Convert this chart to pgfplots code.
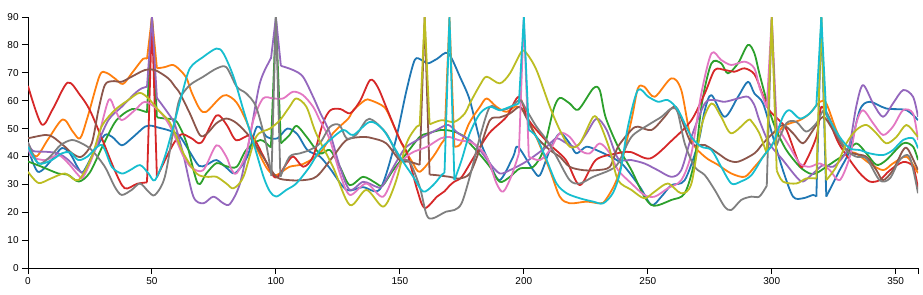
\documentclass[border=0pt]{standalone}
\usepackage{pgfplots}
\pgfplotsset{compat=1.18}
\usepackage{fontspec}
\setmainfont{Liberation Sans}
\definecolor{cB}{HTML}{1F77B4}
\definecolor{cO}{HTML}{FF7F0E}
\definecolor{cG}{HTML}{2CA02C}
\definecolor{cR}{HTML}{D62728}
\definecolor{cP}{HTML}{9467BD}
\definecolor{cBr}{HTML}{8C564B}
\definecolor{cPk}{HTML}{E377C2}
\definecolor{cGy}{HTML}{7F7F7F}
\definecolor{cOl}{HTML}{BCBD22}
\definecolor{cC}{HTML}{17BECF}
\pgfplotsset{
  ser/.style={line width=1.35pt, smooth, tension=0.5, no markers, line join=round},
  spk/.style={line width=1.35pt, sharp plot, no markers, line join=round},
}
\begin{document}
\begin{tikzpicture}
\path[use as bounding box] (-21pt,-19.5pt) rectangle (671.25pt,201pt);
\begin{axis}[at={(0,0)}, anchor=south west, scale only axis,
  width=667.5pt, height=188.25pt,
  xmin=0, xmax=359, ymin=0, ymax=90,
  axis x line*=bottom, axis y line*=left,
  axis line style={line width=0.75pt, black},
  xtick={0,50,...,350}, ytick={0,10,...,90},
  extra x ticks={359}, extra x tick labels={},
  tick align=outside, major tick length=4.5pt,
  tick style={line width=0.75pt, black},
  ticklabel style={font=\fontsize{7.5}{9}\selectfont},
  /pgf/number format/assume math mode=true,
  xticklabel style={yshift=1pt}, yticklabel style={xshift=1pt},
  clip=true,
]
% blue
\addplot[ser, cB] coordinates {(0,43) (4,34.5) (9.5,38.7) (13.6,43) (17,41) (20.3,35.7) (22.3,34.5) (27,42.3) (31,47.7) (34,47) (37.8,44) (41.8,46.5) (47.2,50.7) (50,51) (52,50.5) (57,49.3) (61,47.5) (65,42) (69,36.6) (72,37) (76,38.7) (80,36) (83.5,34) (88.5,40) (92.4,50.7) (96.4,47) (100.6,46.5) (104.6,50) (108.6,48) (112.7,42.3) (117.7,40) (121.8,35.7) (128.5,28) (135,29) (142,28.3) (148,44.7) (152.7,63.8) (156,74.6) (158.7,74.6) (161.4,73.4) (165,75) (169.5,77) (174.5,68) (178.2,60.2) (182.3,45.9) (186.3,37.5) (190.3,31.5) (195.7,39.9) (197.6,43.5) (203.8,35.1) (206.5,33.3) (210.5,42.3) (214.5,48.3) (218.5,44.7) (221.2,41.1) (225.3,43.5) (230,42) (235,39.9) (240,37) (246.8,29.1) (251.5,22.6) (255.5,25.6) (259.5,29.7) (264.9,31.5) (270.3,44.7) (273,56.6) (275.7,62) (281,54.2) (286.4,61.4) (290.4,66.8) (293,62.6) (296.5,59) (300.5,47) (304.5,35.1) (308.6,25.6) (312.6,25) (316.7,26.2) (318,25.6)};
\addplot[spk, cB] coordinates {(318,25.6) (320,90) (322,25.6)};
\addplot[ser, cB] coordinates {(322,25.6) (327.4,35.1) (331.5,42.3) (335.5,56.6) (339.5,59.6) (346.2,57.2) (354.3,56.6) (359,53)};
% orange
\addplot[ser, cO] coordinates {(0,43.5) (3.4,40) (8,46) (14,53.3) (18,49) (21,46.5) (24,54) (28.9,69) (31.6,70) (35,68) (38.3,66) (42,70) (46.4,75) (48,75)};
\addplot[spk, cO] coordinates {(48,75) (50,90) (52,71.6)};
\addplot[ser, cO] coordinates {(52,71.6) (55,72) (58.5,72.8) (61.3,71) (64,68) (66,63) (69.3,57) (71.9,56) (77.2,60.8) (80,62) (84,59.5) (87.9,53) (92,43.5) (96,36.3) (99,33.3) (101.5,33.9) (105.5,36.3) (111,37.3) (117.7,41.1) (123,48.3) (129.2,53.6) (131.2,56.6) (136,60.2) (138,60.2) (142.6,58.4) (145,56) (150.5,45) (155,38) (158,34.5) (163.4,39.9) (166.8,44.7) (168,46)};
\addplot[spk, cO] coordinates {(168,46) (170,90) (172,43.5)};
\addplot[ser, cO] coordinates {(172,43.5) (174.5,44.5) (178,52) (182.3,57.8) (185,60.8) (189,57.8) (193,56) (197,58) (200,56) (205,47) (210.5,35.1) (214.5,25.6) (218.5,23.2) (225.3,23.8) (230.6,23.2) (233,24.4) (238,33) (243.4,53) (246,64.4) (248.6,65) (252.8,61.4) (259.5,68) (263.5,63.8) (267.6,45.9) (273,39.9) (278.3,37) (283.7,33.9) (289.1,32.7) (293.1,36.3) (296.5,39.9) (300.5,44.7) (304.5,50.7) (311.3,53) (315.3,55.4) (319.4,59.6) (322,59) (326,49.5) (330.1,42.3) (334.1,41.1) (339.5,37.5) (344.9,35.1) (348.9,37.5) (354.3,39.9) (358.3,35.1) (359,34)};
% green
\addplot[ser, cG] coordinates {(0,38.2) (5,36.5) (12.2,33.9) (16,33.5) (20.5,31) (24.9,34.2) (30.2,43.9) (35.6,52.9) (42,57) (47.5,56) (48,56)};
\addplot[spk, cG] coordinates {(48,56) (50,90) (52,54)};
\addplot[ser, cG] coordinates {(52,54) (55.2,53.6) (59,53.2) (61,51) (64,44.7) (68.5,30.3) (72,34) (76,37.6) (80,36.5) (84.2,36.3) (88,42.3) (93.7,45.9) (97.6,43.5) (98,43.5)};
\addplot[spk, cG] coordinates {(98,43.5) (100,90) (102,44.7)};
\addplot[ser, cG] coordinates {(102,44.7) (105.5,47.7) (108.3,51) (112.4,47) (117.7,41.1) (121.8,42.3) (125.8,36.3) (129.8,29.7) (135.2,32.7) (140.6,30.3) (143,29.5) (147.3,35.1) (152.7,41.1) (158,47) (161.4,48.3) (166.8,49.5) (172,48.9) (176.2,47) (178.2,44.7) (182,41) (186.3,36.3) (190.3,30.9) (194.4,32.7) (198.4,35.7) (203.8,36.3) (207.9,42.3) (211.9,56.6) (214.5,61) (218.5,59) (222,56.8) (228,64.4) (230.6,63.8) (233,54) (238,43.5) (243.4,35.1) (248.6,25.6) (252.5,22.3) (259.5,24.4) (264.9,26.8) (268.9,38.7) (272,60) (275.7,73.4) (279.6,73.4) (282.3,69.8) (286.4,73.4) (290.4,80) (293,77) (295,69.8) (299,56.6) (301.8,49.5) (305.9,42.3) (311.3,36.3) (315.3,33.9) (318,34) (322,36.3) (326,38.7) (330.1,41.1) (334.1,44.7) (338.2,41.1) (342.2,37) (346.2,38.7) (353,44.7) (357,43.5) (359,38.7)};
% red
\addplot[ser, cR] coordinates {(0,65.3) (5.5,51.5) (10,57) (16,66.5) (21,62) (25,56.5) (30,46) (35,35) (39,28.6) (44,30.2) (48,30.7)};
\addplot[spk, cR] coordinates {(48,30.7) (50,90) (52,32.6)};
\addplot[ser, cR] coordinates {(52,32.6) (56,40) (59,45) (62,48) (66,46.5) (70,45) (76,54.7) (80,51.5) (84,45.8) (90,47.5) (95,40) (99,33) (101,33) (104,37) (107,40) (111,36.3) (115,40) (119,52) (122,56.6) (126,57) (130,55.5) (134,60) (138,67.4) (141,65) (145,56.6) (150,46) (153,41) (157,28) (160,21.5) (165,25.6) (168,27.5) (170,29.5) (172,31) (175,32.7) (180,40) (186,48.3) (193,54.2) (198,61.4) (202,53) (210,44.7) (217,38.7) (222.6,29.7) (229,38.7) (237,41) (243,41.6) (251,39.3) (260,46) (267.6,53) (273,62.6) (277,71) (281,71) (285,70.4) (289,71.6) (293,69.5) (296,63) (299,56.6) (303,53) (306,49.5) (311,37.5) (313,37) (318,47) (320,57.8) (323,53) (327,44.7) (331.5,38.7) (335.5,34) (339.5,31) (343.5,31.5) (347.6,35) (353,38) (357,36.3) (359,28.5)};
% purple
\addplot[ser, cP] coordinates {(0,45) (2,42) (6.9,41.7) (12.2,41.1) (16.3,38.7) (20.3,35.1) (23,34.5) (27,42.3) (32.4,53) (37.8,57.8) (43.1,62.6) (45.8,64.4) (48,65)};
\addplot[spk, cP] coordinates {(48,65) (50,90) (52,61)};
\addplot[ser, cP] coordinates {(52,61) (56.6,55.4) (59.3,51.3) (62.7,40.5) (66.7,25.6) (70.7,23.2) (74.8,25.6) (78.8,23.2) (81.5,23) (85.5,30.3) (89.5,47) (93.5,66.2) (97.6,74.6) (98,75)};
\addplot[spk, cP] coordinates {(98,75) (100,90) (102,72.5)};
\addplot[ser, cP] coordinates {(102,72.5) (106.9,71) (110.9,68.6) (115,61.4) (117.7,56) (121.8,48.3) (125.8,36.3) (129.8,28) (135.2,30.9) (140.6,29.1) (143,29.5) (149,38.7) (152.7,43.5) (159.4,47) (164.8,49.5) (169.5,51.3) (173.5,48.3) (178.2,45.9) (182.3,42.3) (186.3,37.5) (190.3,33.9) (194.4,35.1) (199.7,37.5) (203.8,39.9) (209.2,43.5) (213.2,46.5) (217.3,44.7) (221.3,43.5) (225.3,48.3) (229.4,53.6) (233.4,49.5) (238,39.3) (243.4,38.7) (248.6,37.5) (254,35.1) (259.5,32.7) (263.5,35.1) (267.6,47) (273,59) (277,60.2) (281,59.6) (286.4,60.8) (290.4,61.4) (293,58.4) (295,53) (299,44.7) (304.5,38.7) (309.9,32.7) (312.6,31) (316.7,33.9) (320.7,36.9) (324.7,36.3) (328.8,39.9) (331.5,44.7) (334.1,58) (336.8,65.6) (340.9,59) (344.9,54.2) (348.9,59) (353,63.8) (357,61.4) (359,54.2)};
% brown
\addplot[ser, cBr] coordinates {(0,46.5) (6.9,47.7) (10,47) (14.9,43.5) (18,41) (21.6,39.9) (25.7,44.7) (28.4,56.6) (31,65.6) (34,67) (37.8,66.8) (41.8,68.6) (47.2,71) (51.2,71) (56.6,68) (59.3,65) (61.3,62.6) (65.3,55.4) (69.3,47.7) (72,48) (76,51.9) (80,53.6) (84.2,51.9) (89.5,47) (94.8,39.9) (100.2,32.7) (105.5,31.5) (110.9,31.5) (114.9,32.1) (117.7,33.9) (123,39.9) (128.5,45.9) (135.2,47) (139.1,46.5) (144.5,44.7) (149.9,38.7) (153.9,38.1) (158,37)};
\addplot[spk, cBr] coordinates {(158,37) (160,90) (162,33.5)};
\addplot[ser, cBr] coordinates {(162,33.5) (164.7,33.3) (170,32.7) (174.1,32.1) (178.2,33.9) (182,42) (186.3,53) (190.3,54) (194.4,55.4) (198.4,57.8) (201,54) (205.1,47) (210.5,42.3) (214.5,39.9) (218.5,36.3) (223.9,35.1) (229.4,35.1) (234.7,36.3) (238,43.5) (243.4,49.5) (246,50.7) (251.5,49.5) (256.8,54.2) (259.5,57.2) (262,57) (267.6,44.7) (273,44.1) (278.3,41.1) (282.3,38.7) (286.4,38.1) (293,41.1) (296.5,44.7) (300.5,48.3) (304.5,51.3) (308.6,48.3) (312.6,44.7) (316.7,49.5) (320.7,54.2) (324.7,49.5) (328.8,43.5) (332.8,41.1) (338.2,39.9) (342.2,35.1) (344.9,31.5) (348.9,35.1) (353,42.3) (355,42.5) (359,35.1)};
% pink
\addplot[ser, cPk] coordinates {(0,44) (1.5,40) (6.9,38.7) (12.2,40.5) (16.3,37.5) (20.3,33.3) (22.3,32.7) (27,42.3) (32.4,60) (35,57) (37.8,53) (43.1,56.6) (47.2,59.6) (52.6,56.6) (56.6,51.9) (59.3,47) (62.7,40) (66,36) (70.7,35.1) (76,44) (80,39.9) (82,35.4) (84.2,34) (88,41.1) (90.9,53) (94.8,60.8) (98.9,60.8) (102.9,60.8) (106.9,63.2) (110.9,62) (115,57.8) (117.7,53) (121.8,45.9) (125.8,33.9) (129.8,26.2) (136.5,30.3) (143.3,25.6) (149,36.3) (154.4,41.1) (161,43.5) (166.5,46.5) (170,47) (173.5,45.9) (179.6,44.7) (185,39.9) (189,30.3) (191.7,27.4) (195,33) (198,41)};
\addplot[spk, cPk] coordinates {(198,41) (200,90) (202,39.9)};
\addplot[ser, cPk] coordinates {(202,39.9) (206.5,38.7) (210.5,42.3) (214.5,48.3) (218.5,47) (222.6,42.3) (226.6,41.1) (230.6,44.7) (234.7,41.1) (238,35.1) (243.4,30.3) (248.6,26.2) (252.8,25.6) (258.1,28.6) (263.5,31.5) (267.6,41.1) (271.6,62.6) (275.7,77) (279.6,74.6) (283.7,72.8) (289.1,74) (293,71.6) (295,65) (298,57.5)};
\addplot[spk, cPk] coordinates {(298,57.5) (300,90) (302,51)};
\addplot[ser, cPk] coordinates {(302,51) (307.2,43.5) (311.3,37.5) (315.3,36.3) (319.4,37.5) (323.4,35.1) (327.4,31.5) (331.5,39.9) (334.1,51.9) (336.8,56.6) (340.9,51.9) (344.9,47.7) (348.9,50.7) (353,56.6) (357,55.4) (359,45.9)};
% gray
\addplot[ser, cGy] coordinates {(0,45) (4.2,37.5) (9,40) (13,44) (17.6,45.9) (21.6,44.7) (25.7,42.3) (31,36.3) (35,29.1) (37.8,26.2) (41.8,28) (45.2,30.3) (48.6,27.4) (51.2,26.2) (55.2,32.7) (59.3,53) (61.2,60.7) (65.3,65.6) (70.7,68.6) (76,71.5) (80,72) (84.2,65) (88,62.6) (92,57.8) (96,44.7) (98.2,33)};
\addplot[spk, cGy] coordinates {(98.2,33) (100,90) (101.8,32.7)};
\addplot[ser, cGy] coordinates {(101.8,32.7) (105.5,39.9) (109.6,41.1) (113.6,42.3) (117.7,44.7) (121.8,50.6) (125.6,51.3) (128.5,46.5) (132.3,47.7) (136.5,53) (139.1,53) (144.5,48.3) (149.9,39.3) (153.9,38.1) (158,29.1) (160.8,19) (163.3,17.8) (168.6,20.2) (172,20.8) (174.9,23.2) (178.2,32.7) (182.3,47) (186.3,57.8) (190.3,56.6) (194.4,57.5) (198.4,60.2) (201.1,56.6) (205.1,50.7) (209.2,45.9) (213.2,39.9) (218.5,31.5) (222.6,30.3) (228,32.7) (234.7,35.1) (238,37.5) (243.4,47) (250.2,51.3) (255.5,54.2) (259.5,57.2) (262,56) (264.9,44.7) (268.9,36.3) (273,33.3) (277,28) (281,22) (283.7,20.8) (287.7,24.4) (291.8,25.6) (295,25.6) (298,29.5)};
\addplot[spk, cGy] coordinates {(298,29.5) (300,90) (302,44)};
\addplot[ser, cGy] coordinates {(302,44) (305.9,51.9) (309.9,52.4) (313.9,48.9) (318,51.9) (321.4,56.6) (326,48.3) (330.1,42.3) (334.1,39.9) (338.2,39.3) (343.5,31.5) (347.6,32.1) (351.6,38.7) (355.6,39.9) (359,26.8)};
% olive
\addplot[ser, cOl] coordinates {(0,34.5) (4.2,30.5) (9,32) (14.9,33.9) (20.3,31.5) (25.7,39.9) (29.7,50.7) (35,56.6) (40.4,60.2) (45,62.8) (48.6,60.8) (52.6,56.6) (56.6,53) (59.3,48.3) (62.7,41.1) (68,33.9) (72,32.7) (76,32.7) (80,30.3) (82.9,28.6) (86.9,32.7) (92,47) (97.6,50) (101.6,53) (105.5,57.8) (108.2,60.8) (112.3,57.8) (116.2,48.3) (123,36.3) (129.8,22.6) (136.5,28) (143.3,22) (148,30) (152.7,44.7) (156.7,50.6) (158,51)};
\addplot[spk, cOl] coordinates {(158,51) (160,90) (162,51.5)};
\addplot[ser, cOl] coordinates {(162,51.5) (166.8,53) (172,52.4) (176.2,55.4) (178.2,59) (182.3,65.6) (185,68.6) (190.3,66.2) (194.4,69.8) (199,77.5) (201.1,77) (205.1,71) (210.5,57.8) (214.5,49.5) (218.5,43.5) (222.6,44.7) (228,54.2) (230.6,51.9) (234.7,42.3) (238,31.5) (243.4,28) (248.6,25) (252.8,27.4) (258.1,30.3) (263.5,26.8) (267.6,30.3) (271.6,50.7) (275.7,59) (279.6,54.2) (283.7,48.3) (290.4,53) (292,52.4) (295,48.3) (298,41)};
\addplot[spk, cOl] coordinates {(298,41) (300,90) (302,35)};
\addplot[ser, cOl] coordinates {(302,35) (304.5,31) (309.9,30.3) (313.9,32.1) (318,32.1)};
\addplot[spk, cOl] coordinates {(318,32.1) (320,90) (322,31.5)};
\addplot[ser, cOl] coordinates {(322,31.5) (326,36.3) (330.1,44.7) (334.1,49.5) (338.2,51.3) (342.2,48.3) (346.2,44.7) (350.3,47) (354.3,51.3) (358.3,47.7) (359,47)};
% cyan
\addplot[ser, cC] coordinates {(0,43.5) (4.2,37.5) (9.5,38.7) (13.6,41.1) (17,41.5) (20.3,38.7) (24,40) (29.7,44.1) (33.8,36.3) (37.8,33.9) (41,35) (45.2,36.9) (48.6,33.9) (51.2,31.5) (55.2,39.9) (59.3,53) (62,62) (65.3,71.6) (70.7,75.7) (76,78.7) (78.8,77) (82.9,68.6) (86.9,56.6) (91,44.7) (95,32.7) (97.6,27.4) (100.2,25.6) (104.2,28) (108.2,30.3) (113.6,36.3) (117.7,42.3) (121.8,45.9) (127.2,49.5) (131.2,47.7) (137.9,52.4) (143.3,49.5) (150,39.9) (155.4,32.7) (159.4,27.4) (163.4,29.7) (167,33.5) (168,34)};
\addplot[spk, cC] coordinates {(168,34) (170,90) (172,31.5)};
\addplot[ser, cC] coordinates {(172,31.5) (174.9,38.7) (178.2,48.3) (182.3,55.4) (186.3,57.8) (190.3,56.6) (194.4,57.8) (198,59)};
\addplot[spk, cC] coordinates {(198,59) (200,90) (202,49.5)};
\addplot[ser, cC] coordinates {(202,49.5) (205.1,47) (209.2,38.7) (213.2,30.3) (217.3,26.8) (222.6,25) (228,23.8) (232,23.2) (236,27) (239,35) (242,50.7) (246,63.8) (250.2,61.4) (254.2,59.6) (258.1,60.2) (262.2,56.6) (267.6,47) (271.6,43.5) (275.7,42.3) (279.6,36.3) (283.7,30.3) (287.5,31) (291.8,33.3) (296.5,39.9) (300.5,44.7) (304.5,54.2) (307.2,56.6) (311.3,53.6) (315.3,55.4) (318,58.4)};
\addplot[spk, cC] coordinates {(318,58.4) (320,90) (322,55)};
\addplot[ser, cC] coordinates {(322,55) (327.4,47) (331.5,42.9) (335.5,42.3) (339.5,41.1) (344.9,40.5) (348.9,42.3) (353,45.9) (357,46.5) (359,42.9)};
\end{axis}
\end{tikzpicture}
\end{document}
